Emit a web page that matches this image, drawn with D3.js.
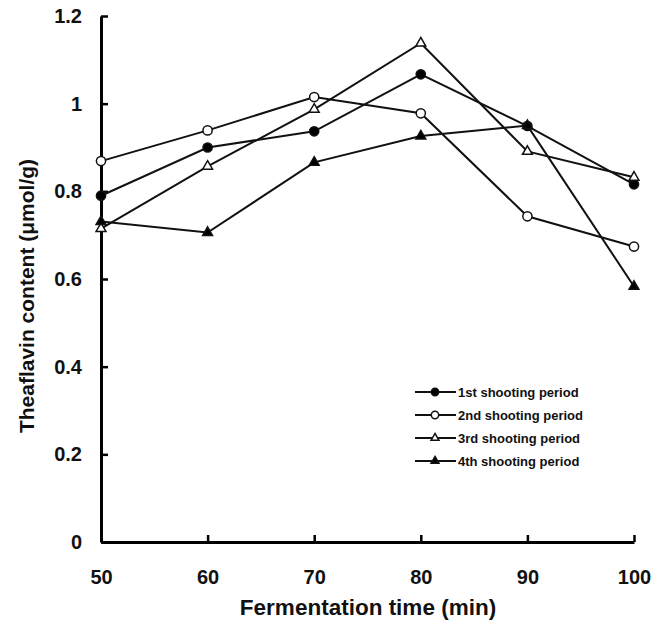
<!DOCTYPE html>
<html>
<head>
<meta charset="utf-8">
<script src="https://cdn.jsdelivr.net/npm/d3@7"></script>
<style>
  body { margin: 0; background: #fff; }
  svg { font-family: "Liberation Sans", Arial, sans-serif; }
</style>
</head>
<body>
<div id="chart"></div>
<script>
// data
var times = [50, 60, 70, 80, 90, 100];
var period1 = [0.79, 0.90, 0.937, 1.067, 0.949, 0.816];
var period2 = [0.869, 0.939, 1.015, 0.978, 0.743, 0.674];
var period3 = [0.715, 0.857, 0.987, 1.138, 0.891, 0.832];
var period4 = [0.731, 0.706, 0.866, 0.926, 0.95, 0.583];
var seriesNames = ["1st shooting period", "2nd shooting period", "3rd shooting period", "4th shooting period"];
var yTicks = [0, 0.2, 0.4, 0.6, 0.8, 1, 1.2];
var xTicks = [50, 60, 70, 80, 90, 100];

var width = 670, height = 630;
var margin = {left: 101, right: 36, top: 16, bottom: 88};

var svg = d3.select("#chart").append("svg")
    .attr("width", width)
    .attr("height", height);

var x = d3.scaleLinear().domain([50, 100]).range([margin.left, width - margin.right]);
var y = d3.scaleLinear().domain([0, 1.2]).range([height - margin.bottom, margin.top]);

var series = [
  {name: seriesNames[0], values: period1, shape: "circle", fill: "#000"},
  {name: seriesNames[1], values: period2, shape: "circle", fill: "#fff"},
  {name: seriesNames[2], values: period3, shape: "triangle", fill: "#fff"},
  {name: seriesNames[3], values: period4, shape: "triangle", fill: "#000"}
];

// axes, ticks pointing inward
var xAxis = svg.append("g")
    .attr("transform", "translate(0," + y(0) + ")")
    .call(d3.axisBottom(x).tickValues(xTicks).tickSizeInner(-7).tickSizeOuter(0).tickPadding(28));

var yAxis = svg.append("g")
    .attr("transform", "translate(" + x(50) + ",0)")
    .call(d3.axisLeft(y).tickValues(yTicks).tickFormat(d => String(d)).tickSizeInner(-7).tickSizeOuter(0).tickPadding(19));

[xAxis, yAxis].forEach(function(a) {
  a.select(".domain").attr("stroke", "#000").attr("stroke-width", 3);
  a.selectAll(".tick line").attr("stroke", "#000").attr("stroke-width", 2.5);
  a.selectAll(".tick text")
    .attr("fill", "#111")
    .style("font-size", "20px")
    .style("font-weight", "bold");
});

svg.append("text")
  .attr("x", 368)
  .attr("y", 615)
  .attr("text-anchor", "middle")
  .style("font-size", "22.5px")
  .style("font-weight", "bold")
  .attr("fill", "#111")
  .text("Fermentation time (min)");

svg.append("text")
  .attr("transform", "translate(34," + 296 + ") rotate(-90)")
  .attr("text-anchor", "middle")
  .style("font-size", "21px")
  .style("font-weight", "bold")
  .attr("fill", "#111")
  .text("Theaflavin content (\u03bcmol/g)");

var line = d3.line()
    .x(d => x(d[0]))
    .y(d => y(d[1]));

var g = svg.append("g");

series.forEach(function(s) {
  var pts = times.map((t, i) => [t, s.values[i]]);
  g.append("path")
    .datum(pts)
    .attr("d", line)
    .attr("fill", "none")
    .attr("stroke", "#111")
    .attr("stroke-width", 2);
});

function drawMarker(sel, shape, fill, cx, cy, k) {
  if (shape == "circle") {
    sel.append("circle")
      .attr("cx", cx).attr("cy", cy).attr("r", 4.6 * k)
      .attr("fill", fill).attr("stroke", "#111").attr("stroke-width", 1.5);
  } else {
    sel.append("path")
      .attr("d", d3.symbol().type(d3.symbolTriangle).size(42 * k * k)())
      .attr("transform", "translate(" + cx + "," + cy + ")")
      .attr("fill", fill).attr("stroke", "#111").attr("stroke-width", 1.5);
  }
}

series.forEach(function(s) {
  times.forEach(function(t, i) {
    drawMarker(g, s.shape, s.fill, x(t), y(s.values[i]), 1);
  });
});

// legend
var legend = svg.append("g");
series.forEach(function(s, i) {
  var ly = 392 + i * 23;
  legend.append("line")
    .attr("x1", 415).attr("x2", 456)
    .attr("y1", ly).attr("y2", ly)
    .attr("stroke", "#111").attr("stroke-width", 2);
  drawMarker(legend, s.shape, s.fill, 435, ly, 0.8);
  legend.append("text")
    .attr("x", 458)
    .attr("y", ly + 4.5)
    .style("font-size", "13px")
    .style("font-weight", "bold")
    .attr("fill", "#111")
    .text(s.name);
});
</script>
</body>
</html>
